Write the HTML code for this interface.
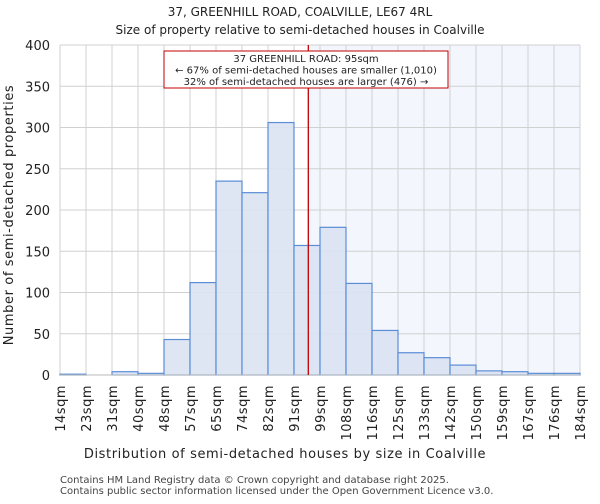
<!DOCTYPE html>
<html><head><meta charset="utf-8"><style>
body{margin:0;background:#fff;font-family:"DejaVu Sans","Liberation Sans",sans-serif;}
svg text{font-family:"DejaVu Sans","Liberation Sans",sans-serif;}
</style></head><body>
<svg id="chart" width="600" height="500" xmlns="http://www.w3.org/2000/svg">
<text x="300" y="16" text-anchor="middle" font-size="12" fill="#222">37, GREENHILL ROAD, COALVILLE, LE67 4RL</text>
<text x="300" y="34" text-anchor="middle" font-size="12" fill="#222">Size of property relative to semi-detached houses in Coalville</text>
<g id="plot"></g>
<text x="285" y="458" text-anchor="middle" font-size="13" letter-spacing="0.6" fill="#222">Distribution of semi-detached houses by size in Coalville</text>
<text transform="translate(13,215) rotate(-90)" text-anchor="middle" font-size="13" letter-spacing="0.6" fill="#222">Number of semi-detached properties</text>
<text x="60" y="483" font-size="10" fill="#444">Contains HM Land Registry data © Crown copyright and database right 2025.</text>
<text x="60" y="494" font-size="10" fill="#444">Contains public sector information licensed under the Open Government Licence v3.0.</text>
</svg>
<script>
const categories=["14sqm","23sqm","31sqm","40sqm","48sqm","57sqm","65sqm","74sqm","82sqm","91sqm","99sqm","108sqm","116sqm","125sqm","133sqm","142sqm","150sqm","159sqm","167sqm","176sqm","184sqm"];
const counts=[1,0,4,2,43,112,235,221,306,157,179,111,54,27,21,12,5,4,2,2];
const yTicks=[0,50,100,150,200,250,300,350,400];
const propertyIndex=9.55;
const NS="http://www.w3.org/2000/svg";
const L=60,R=580,T=45,B=375,yMax=400;
const nb=counts.length,bw=(R-L)/nb;
const xs=i=>L+i*bw;
const ys=v=>B-(v/yMax)*(B-T);
const g=document.getElementById('plot');
function mk(t,a){const e=document.createElementNS(NS,t);for(const k in a)e.setAttribute(k,a[k]);g.appendChild(e);return e;}
const px=xs(propertyIndex);
let sh=mk('rect',{x:px,y:T,width:R-px,height:B-T,fill:'#f4f6fd'});


yTicks.forEach(v=>{
 let l=mk('line',{x1:L,x2:R,y1:ys(v),y2:ys(v),stroke:'#d0d0d0','stroke-width':1});
 
 
 let t=mk('text',{x:L-10,y:ys(v)+5,'text-anchor':'end','font-size':13,fill:'#222'});
 t.textContent=v;
 
 
});
categories.forEach((c,i)=>{
 let l=mk('line',{x1:xs(i),x2:xs(i),y1:T,y2:B,stroke:'#d0d0d0','stroke-width':1});
 
 
 let t=mk('text',{transform:`translate(${xs(i)+5},${B+10}) rotate(-90)`,'text-anchor':'end','font-size':13,'letter-spacing':0.5,fill:'#222'});
 t.textContent=c;
 
 
});
counts.forEach((v,i)=>{
 let r=mk('rect',{x:xs(i),y:ys(v),width:bw,height:B-ys(v),fill:'#dae3f3',stroke:'#5b8dd6','stroke-width':1.2,'fill-opacity':0.9});
 
 
});
let ax=mk('line',{x1:L,x2:R,y1:B,y2:B,stroke:'#bbb'});


let rl=mk('line',{x1:px,x2:px,y1:T,y2:B,stroke:'#c00000','stroke-width':1.3});


let box=mk('rect',{x:164,y:51,width:284,height:37,fill:'#fff',stroke:'#c00000','stroke-width':1});


["37 GREENHILL ROAD: 95sqm","← 67% of semi-detached houses are smaller (1,010)","32% of semi-detached houses are larger (476) →"].forEach((s,k)=>{
 let t=mk('text',{x:306,y:62+k*11.5,'text-anchor':'middle','font-size':10,fill:'#222'});
 t.textContent=s;
 
 
});
</script>
</body></html>
